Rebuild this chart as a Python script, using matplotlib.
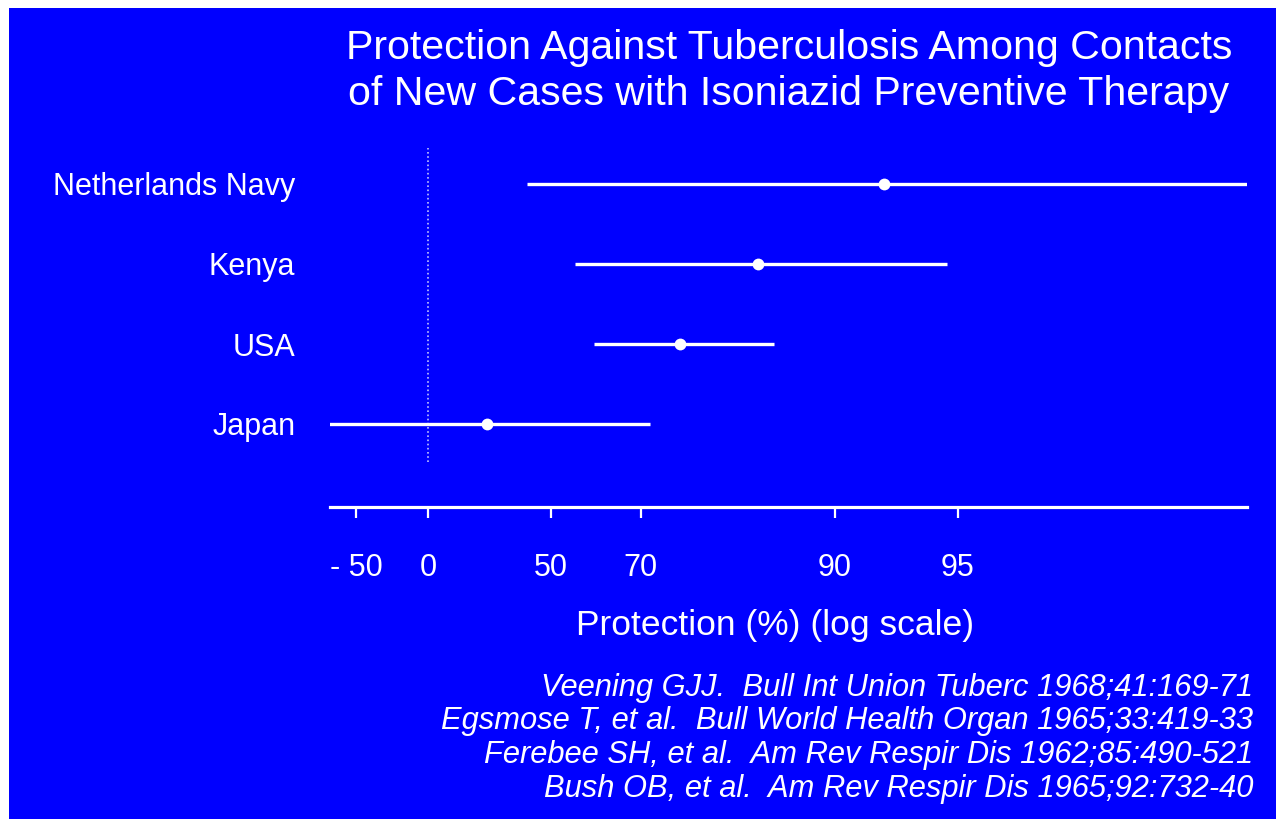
import numpy as np
import matplotlib.pyplot as plt
from matplotlib.patches import Rectangle

plt.rcParams['font.family'] = ['Liberation Sans', 'DejaVu Sans']

studies = ['Netherlands Navy', 'Kenya', 'USA', 'Japan']
protection = [92.4, 84.5, 76.0, 28.4]
lower = [42.9, 56.5, 61.0, -100.0]
upper = [99.5, 94.7, 85.9, 71.5]
tick_values = [-50, 0, 50, 70, 90, 95]
tick_labels = ['- 50', '0', '50', '70', '90', '95']
title_lines = ['Protection Against Tuberculosis Among Contacts',
               'of New Cases with Isoniazid Preventive Therapy']
references = [
    'Veening GJJ.  Bull Int Union Tuberc 1968;41:169-71',
    'Egsmose T, et al.  Bull World Health Organ 1965;33:419-33',
    'Ferebee SH, et al.  Am Rev Respir Dis 1962;85:490-521',
    'Bush OB, et al.  Am Rev Respir Dis 1965;92:732-40',
]

BLUE = '#0000ff'
W, H = 1276, 819


def rr(p):
    # protection (%) -> relative risk, drawn on a log axis
    return 1 - np.asarray(p, dtype=float) / 100.0


def main():
    fig = plt.figure(figsize=(W / 100, H / 100), dpi=100, facecolor='white')
    fig.patches.append(Rectangle((9 / W, 0), 1 - 9 / W, 1 - 8 / H,
                                 transform=fig.transFigure, facecolor=BLUE,
                                 edgecolor='none', zorder=-10))

    ax = fig.add_axes([330 / W, 1 - 507 / H, (1247 - 330) / W, (507 - 148) / H])
    ax.patch.set_alpha(0)

    ypos = np.arange(len(studies))[::-1] + 1
    ax.set_xscale('log')
    ax.set_xlim(1.741, 0.00973)
    ax.set_ylim(-0.0375, 4.45)

    ax.plot([1, 1], [0.525, 4.45], color='#c0c4ff', lw=1.2, ls=(0, (1, 1.5)))
    for y, p, lo, hi in zip(ypos, protection, lower, upper):
        ax.plot(rr([lo, hi]), [y, y], color='white', lw=2.4, solid_capstyle='butt')
        ax.plot(rr(p), y, 'o', color='white', ms=8.5, mew=0)

    ax.set_yticks(ypos)
    ax.set_yticklabels(studies, fontsize=22, color='white')
    ax.tick_params(axis='y', length=0, pad=25)

    ax.set_xticks(rr(tick_values))
    ax.set_xticklabels(tick_labels, fontsize=22, color='white')
    ax.xaxis.set_minor_locator(plt.NullLocator())
    ax.tick_params(axis='x', direction='out', length=8, width=1.6, color='white', pad=25)

    for s in ['top', 'right', 'left']:
        ax.spines[s].set_visible(False)
    ax.spines['bottom'].set_color('white')
    ax.spines['bottom'].set_linewidth(2.3)

    for i, line in enumerate(title_lines):
        fig.text(789 / W, 1 - (48 + 46 * i) / H, line, ha='center', va='center',
                 fontsize=29.6, color='white')
    fig.text(775 / W, 1 - 625 / H, 'Protection (%) (log scale)',
             ha='center', va='center', fontsize=25.5, color='white')
    for i, ref in enumerate(references):
        fig.text(1253 / W, 1 - (688 + 33.5 * i) / H, ref, ha='right', va='center',
                 fontsize=22.2, color='white', style='italic')

    fig.savefig('out.png', dpi=100, facecolor='white')


if __name__ == '__main__':
    main()
